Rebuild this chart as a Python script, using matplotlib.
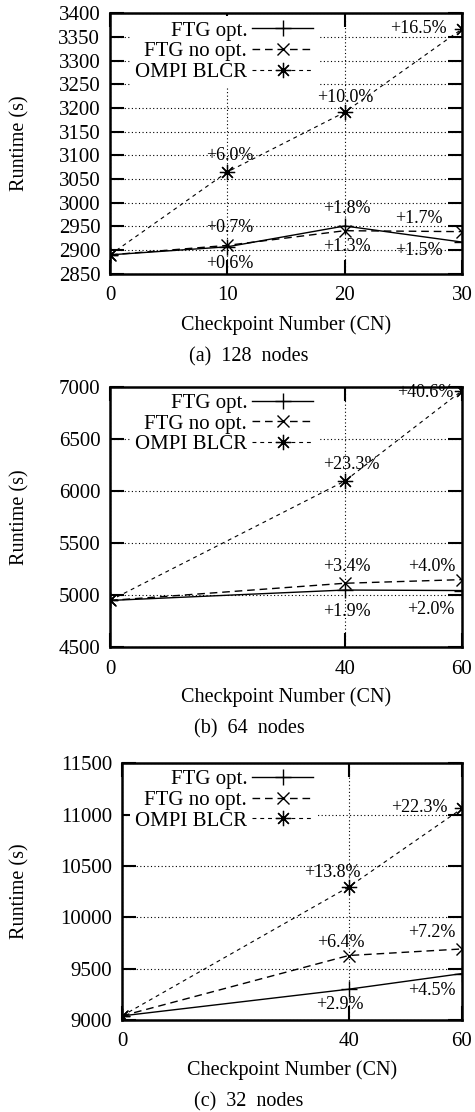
import matplotlib
matplotlib.use("Agg")
import matplotlib.pyplot as plt

plt.rcParams["font.family"] = ["Liberation Serif", "DejaVu Serif"]

# (a) 128 nodes
cn_a = [0, 10, 20, 30]
opt_a = [2890, 2907, 2951, 2917]
noopt_a = [2890, 2910, 2941, 2939]
blcr_a = [2890, 3065, 3191, 3367]
lab_opt_a = ["", "+0.6%", "+1.8%", "+1.5%"]
lab_noopt_a = ["", "+0.7%", "+1.3%", "+1.7%"]
lab_blcr_a = ["", "+6.0%", "+10.0%", "+16.5%"]

# (b) 64 nodes
cn_b = [0, 40, 60]
opt_b = [4950, 5050, 5045]
noopt_b = [4950, 5115, 5150]
blcr_b = [4950, 6096, 6965]
lab_opt_b = ["", "+1.9%", "+2.0%"]
lab_noopt_b = ["", "+3.4%", "+4.0%"]
lab_blcr_b = ["", "+23.3%", "+40.6%"]

# (c) 32 nodes
cn_c = [0, 40, 60]
opt_c = [9040, 9300, 9452]
noopt_c = [9040, 9628, 9692]
blcr_c = [9040, 10295, 11060]
lab_opt_c = ["", "+2.9%", "+4.5%"]
lab_noopt_c = ["", "+6.4%", "+7.2%"]
lab_blcr_c = ["", "+13.8%", "+22.3%"]

W, H = 475, 1112
fig = plt.figure(figsize=(W / 100, H / 100), dpi=100)


def box(l, t, r, b):
    return [l / W, 1 - b / H, (r - l) / W, (b - t) / H]


def panel(rect, cn, opt, noopt, blcr, labs, ylim, yticks, caption, cap_y, xl_y, leg_top):
    l, t, r, b = rect
    ax = fig.add_axes(box(*rect))
    ax.plot(cn, opt, color="black", lw=1.0, ls="-", marker="+", ms=12, mew=1.0,
            label="FTG opt.")
    ax.plot(cn, noopt, color="black", lw=1.0, ls=(0, (5.5, 3.5)), marker="x", ms=9,
            mew=1.0, label="FTG no opt.")
    ax.plot(cn, blcr, color="black", lw=0.8, ls=(0, (3.5, 3.5)), marker=(8, 2, 0),
            ms=11, mew=0.9, label="OMPI BLCR")
    ax.set_xlim(cn[0], cn[-1])
    ax.set_ylim(*ylim)
    ax.set_xticks(cn)
    ax.set_yticks(yticks)
    ax.grid(True, color="black", ls=(0, (1, 2.2)), lw=0.8)
    ax.set_axisbelow(True)
    ax.tick_params(direction="in", length=10, width=1.5, top=True, right=True,
                   labelsize=15, pad=7)
    ax.tick_params(axis="x", pad=9)
    for s in ax.spines.values():
        s.set_linewidth(1.8)
    ax.set_ylabel("Runtime (s)", fontsize=14.5)
    ax.yaxis.label.set_va("center")
    ax.yaxis.set_label_coords((20 - l) / (r - l), 0.5)
    ax.set_xlabel("Checkpoint Number (CN)", fontsize=14.5)
    ax.xaxis.label.set_va("center")
    ax.xaxis.set_label_coords(0.5, -(xl_y - b) / (b - t))
    for series, texts, offs in labs:
        for x, y, txt, off in zip(cn, series, texts, offs):
            if txt:
                dx, dy, ha = off
                ax.annotate(txt, (x, y), xytext=(dx, dy), textcoords="offset pixels",
                            ha=ha, va="center", fontsize=13, zorder=5)
    leg = ax.legend(loc="upper right", markerfirst=False, frameon=True,
                    fancybox=False, framealpha=1, edgecolor="white",
                    handlelength=2.9, handletextpad=0.25, labelspacing=0.05,
                    borderpad=0.25, fontsize=15,
                    bbox_to_anchor=((318 - l) / (r - l), leg_top),
                    borderaxespad=0)
    leg.get_frame().set_linewidth(0)
    leg.set_zorder(2.4)
    fig.text(249 / W, 1 - cap_y / H, caption, ha="center", va="center", fontsize=14.5)
    return ax


panel((110, 13.3, 462, 273.8), cn_a, opt_a, noopt_a, blcr_a,
      [(opt_a, lab_opt_a, [None, (2, -17, "center"), (2, 17, "center"), (-19, -8, "right")]),
       (noopt_a, lab_noopt_a, [None, (2, 18, "center"), (2, -16, "center"), (-19, 13, "right")]),
       (blcr_a, lab_blcr_a, [None, (2, 16, "center"), (1, 15, "center"), (-15, 0, "right")])],
      (2850, 3400), range(2850, 3401, 50), "(a)  128  nodes", 356.7, 325, 0.99)

panel((110, 387, 462, 647.3), cn_b, opt_b, noopt_b, blcr_b,
      [(opt_b, lab_opt_b, [None, (2, -21, "center"), (-8, -19, "right")]),
       (noopt_b, lab_noopt_b, [None, (2, 17, "center"), (-7, 13, "right")]),
       (blcr_b, lab_blcr_b, [None, (7, 17, "center"), (-9, -2, "right")])],
      (4500, 7000), range(4500, 7001, 500), "(b)  64  nodes", 729.3, 696.7, 0.995)

panel((122, 763.3, 462, 1020), cn_c, opt_c, noopt_c, blcr_c,
      [(opt_c, lab_opt_c, [None, (-9, -15, "center"), (-6, -17, "right")]),
       (noopt_c, lab_noopt_c, [None, (-8, 13, "center"), (-7, 16, "right")]),
       (blcr_c, lab_blcr_c, [None, (-16, 15, "center"), (-14, 1, "right")])],
      (9000, 11500), range(9000, 11501, 500), "(c)  32  nodes", 1102.3, 1070, 0.995)

fig.savefig("out.png", dpi=100)
